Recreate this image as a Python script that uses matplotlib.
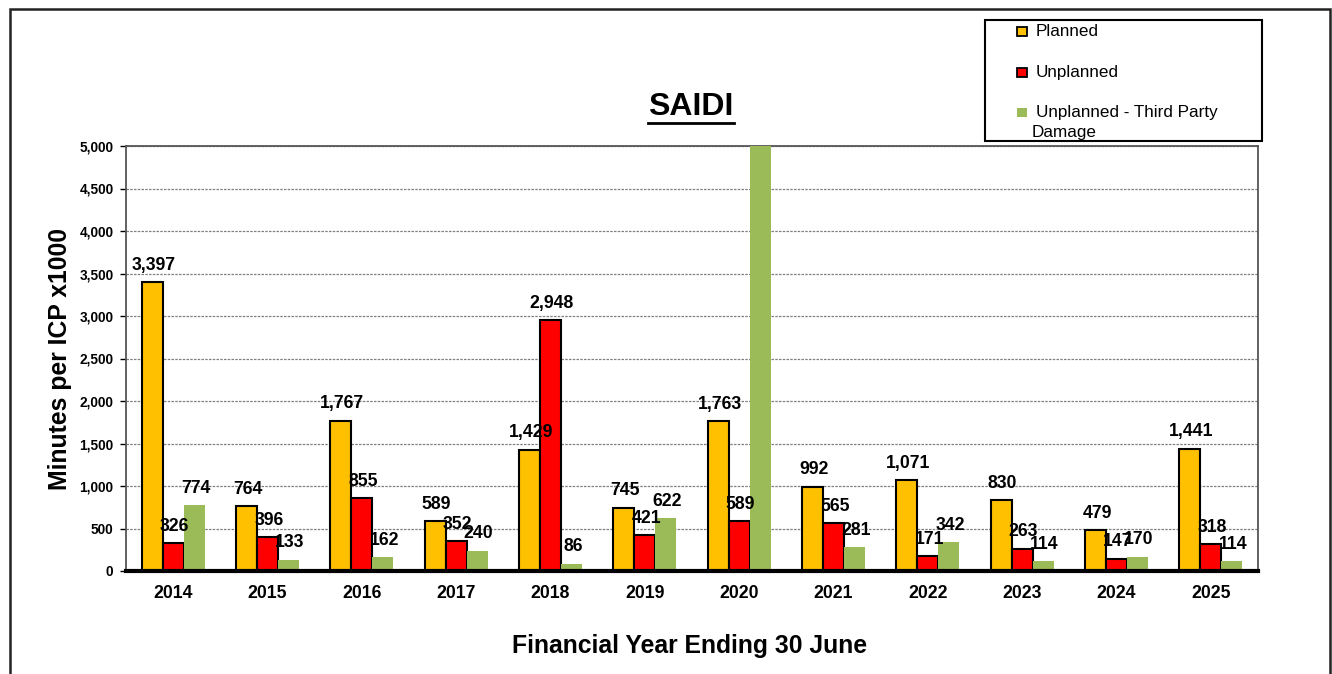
import matplotlib
matplotlib.use("Agg")
import matplotlib.pyplot as plt
from matplotlib.patches import Rectangle
from matplotlib.lines import Line2D
import numpy as np

plt.rcParams['font.family'] = ['Liberation Sans', 'DejaVu Sans']

years = ["2014", "2015", "2016", "2017", "2018", "2019", "2020", "2021", "2022", "2023", "2024", "2025"]
planned = [3397, 764, 1767, 589, 1429, 745, 1763, 992, 1071, 830, 479, 1441]
unplanned = [326, 396, 855, 352, 2948, 421, 589, 565, 171, 263, 147, 318]
third_party = [774, 133, 162, 240, 86, 622, 6000, 281, 342, 114, 170, 114]  # 2020 value exceeds axis (estimate)

series_names = ["Planned", "Unplanned", "Unplanned - Third Party\nDamage"]
colors = ["#FFC000", "#FF0000", "#9BBB59"]
edges = ["black", "black", "none"]

W, H = 1332, 674
fig = plt.figure(figsize=(W / 100, H / 100), dpi=100)

def fx(px):
    return px / W

def fy(py):
    return 1 - py / H

# outer chart border
fig.patches.append(Rectangle((fx(10), -0.1), fx(1330) - fx(10), fy(9) + 0.1,
                             transform=fig.transFigure, fill=False,
                             edgecolor="#222222", linewidth=1.8))

ax = fig.add_axes([fx(126), fy(571), fx(1258) - fx(126), fy(146) - fy(571)])

ymax = 5000
x = np.arange(len(years))
bw = 0.222
data = [planned, unplanned, third_party]
for i, (vals, c, ec) in enumerate(zip(data, colors, edges)):
    pos = x + (i - 1) * bw
    ax.bar(pos, vals, width=bw, color=c, edgecolor=ec,
           linewidth=1.5 if ec != "none" else 0, zorder=3)
    for xp, v in zip(pos, vals):
        if v <= ymax:
            ax.annotate(f"{v:,}", (xp, v), xytext=(1, 6), textcoords="offset points",
                        ha="center", va="bottom", fontsize=12.7, fontweight="bold",
                        zorder=5, annotation_clip=False)

ax.set_xlim(-0.5, len(years) - 0.5)
ax.set_ylim(0, ymax)
ax.set_yticks(np.arange(0, ymax + 1, 500))
ax.set_yticklabels([f"{int(t):,}" for t in np.arange(0, ymax + 1, 500)],
                   fontsize=9.8, fontweight="bold")
ax.set_xticks(x)
ax.set_xticklabels(years, fontsize=12.7, fontweight="bold")
ax.tick_params(axis="x", length=0, pad=10)
ax.tick_params(axis="y", length=4, width=1, direction="out", pad=5)
ax.yaxis.grid(True, color="#808080", linestyle=(0, (2, 1)), linewidth=0.9, zorder=0)
ax.set_axisbelow(True)
for s in ["top", "right", "left"]:
    ax.spines[s].set_color("#555555")
    ax.spines[s].set_linewidth(1.3)
ax.spines["bottom"].set_color("black")
ax.spines["bottom"].set_linewidth(3)
ax.spines["bottom"].set_zorder(6)

ax.set_ylabel("Minutes per ICP x1000", fontsize=17.8, fontweight="bold", labelpad=5)
fig.text(fx(690), fy(646), "Financial Year Ending 30 June", ha="center", va="center",
         fontsize=17.8, fontweight="bold")

# title with underline
t = fig.text(fx(691), fy(107), "SAIDI", ha="center", va="center",
             fontsize=23, fontweight="bold")
fig.canvas.draw()
bb = t.get_window_extent()
fig.lines.append(Line2D([bb.x0, bb.x1], [H - 123, H - 123], transform=None,
                        color="black", linewidth=2))

# legend box
fig.patches.append(Rectangle((fx(985), fy(141)), fx(1262) - fx(985), fy(20) - fy(141),
                             transform=fig.transFigure, fill=False,
                             edgecolor="black", linewidth=1.5))
rows = [31, 72, 112]
for name, c, ec, ry in zip(series_names, colors, edges, rows):
    s = 9
    fig.patches.append(Rectangle((fx(1022 - s / 2), fy(ry + s / 2)), fx(s), s / H,
                                 transform=fig.transFigure, facecolor=c,
                                 edgecolor=ec, linewidth=1.3 if ec != "none" else 0))
    first, *rest = name.split("\n")
    fig.text(fx(1036), fy(ry), first, ha="left", va="center", fontsize=12.3)
    for k, line in enumerate(rest):
        fig.text(fx(1032), fy(ry + 20 * (k + 1)), line, ha="left", va="center", fontsize=12.3)

fig.savefig("out.png", dpi=100)
